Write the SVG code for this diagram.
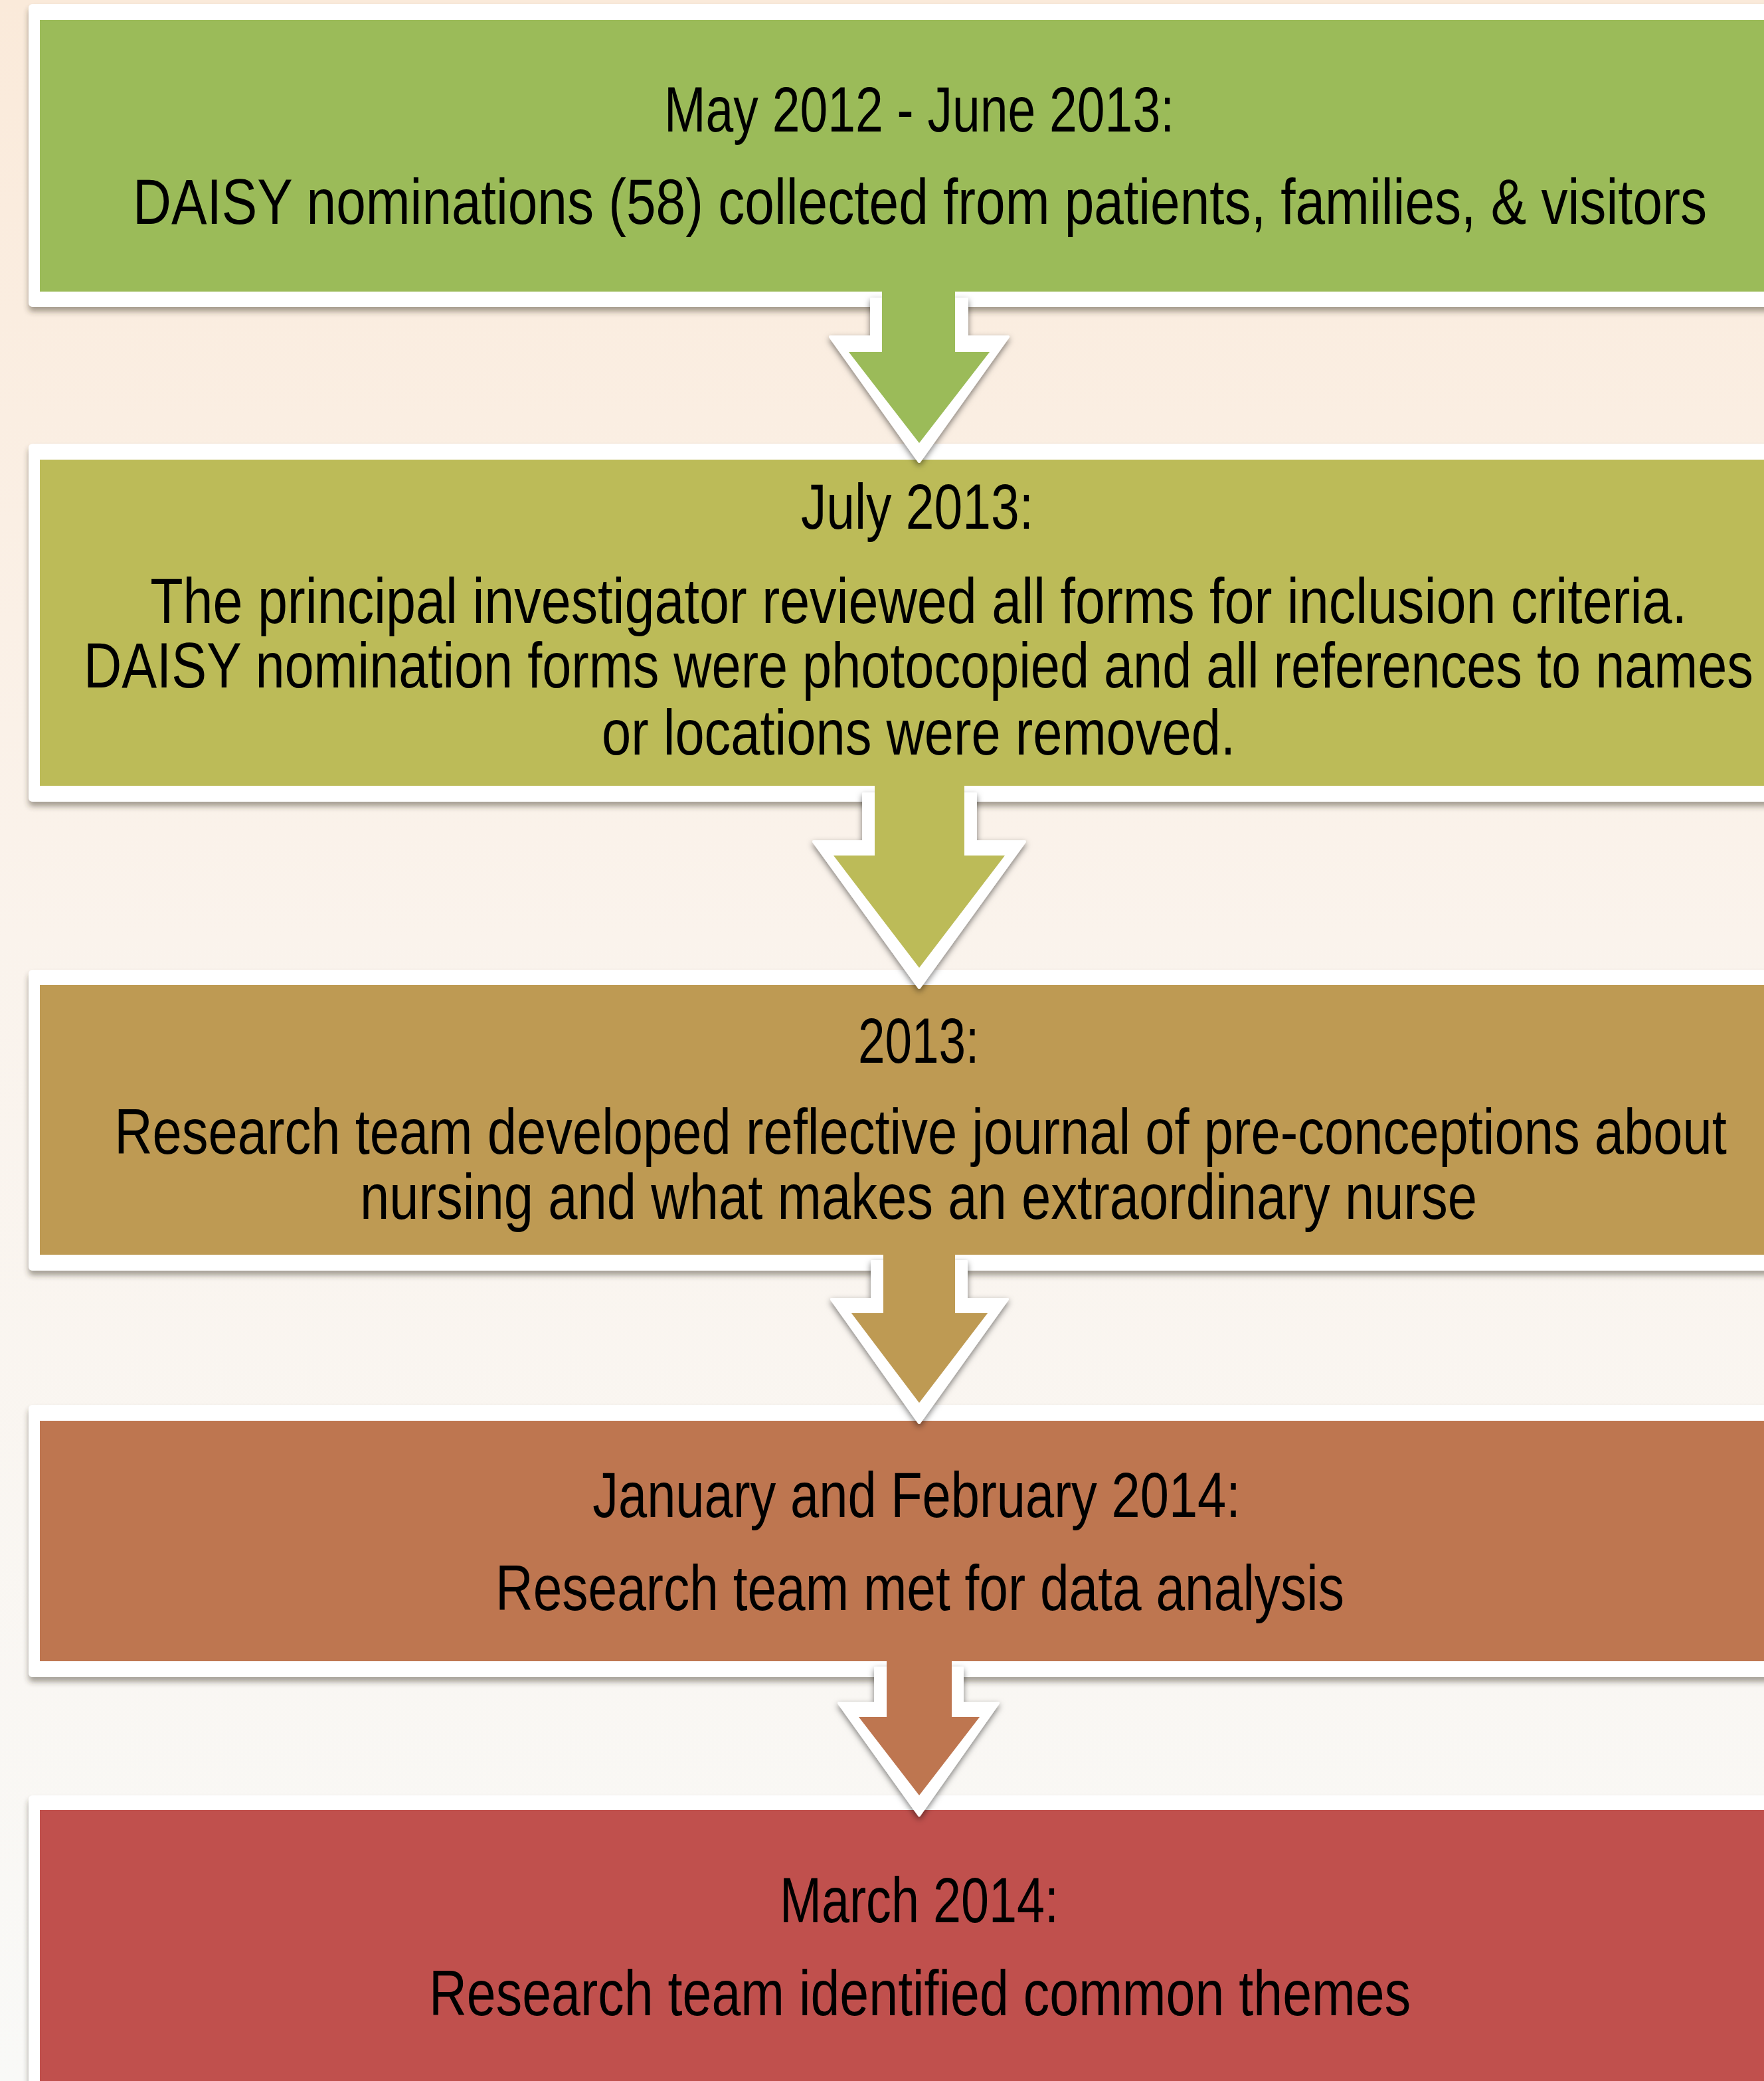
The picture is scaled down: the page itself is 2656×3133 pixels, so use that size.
<svg xmlns="http://www.w3.org/2000/svg" width="2656" height="3133" viewBox="0 0 2656 3133">
<defs>
<linearGradient id="bg" x1="0" y1="0" x2="0" y2="1">
<stop offset="0" stop-color="#FAEADA"/>
<stop offset="0.45" stop-color="#FAF3EC"/>
<stop offset="1" stop-color="#F9F9F7"/>
</linearGradient>
<filter id="boxShadow" x="-3%" y="-10%" width="110%" height="125%">
<feDropShadow dx="0" dy="7" stdDeviation="4" flood-color="#3a3026" flood-opacity="0.45"/>
</filter>
<filter id="arrowShadow" x="-30%" y="-20%" width="160%" height="150%">
<feDropShadow dx="0" dy="4" stdDeviation="5" flood-color="#000" flood-opacity="0.5"/>
</filter>
<style>
.frame{fill:#FFFFFF;filter:url(#boxShadow)}
.t{font-family:"Liberation Sans",Arial,sans-serif;font-size:96px;fill:#000;text-anchor:middle}
.aout{fill:#FFFFFF;stroke:#FFFFFF;stroke-width:4;stroke-linejoin:round;filter:url(#arrowShadow)}
</style>
</defs>
<rect x="0" y="0" width="2656" height="3133" fill="url(#bg)"/>

<g id="node1">
<rect class="frame" x="43" y="6" width="2700" height="456" rx="6"/>
<rect x="60" y="30" width="2700" height="409" fill="#9BBB59"/>
<text class="t" transform="translate(1384 198) scale(0.75 1)" x="0" y="0" textLength="1024" lengthAdjust="spacingAndGlyphs">May 2012 - June 2013:</text>
<text class="t" transform="translate(1385 337) scale(0.75 1)" x="0" y="0" textLength="3160" lengthAdjust="spacingAndGlyphs">DAISY nominations (58) collected from  patients, families,  &amp; visitors</text>
</g>

<g id="node2">
<rect class="frame" x="43" y="668" width="2700" height="539" rx="6"/>
<rect x="60" y="692" width="2700" height="491" fill="#BCBB58"/>
<text class="t" transform="translate(1381 796) scale(0.75 1)" x="0" y="0" textLength="467" lengthAdjust="spacingAndGlyphs">July 2013:</text>
<text class="t" transform="translate(1383 938) scale(0.75 1)" x="0" y="0" textLength="3085" lengthAdjust="spacingAndGlyphs">The principal  investigator reviewed all forms for inclusion criteria.</text>
<text class="t" transform="translate(1383 1035) scale(0.75 1)" x="0" y="0" textLength="3352" lengthAdjust="spacingAndGlyphs">DAISY nomination  forms were photocopied  and all references to names</text>
<text class="t" transform="translate(1383 1136) scale(0.75 1)" x="0" y="0" textLength="1272" lengthAdjust="spacingAndGlyphs">or locations were removed.</text>
</g>

<g id="node3">
<rect class="frame" x="43" y="1460" width="2700" height="453" rx="6"/>
<rect x="60" y="1483" width="2700" height="406" fill="#BE9A53"/>
<text class="t" transform="translate(1383 1600) scale(0.75 1)" x="0" y="0" textLength="243" lengthAdjust="spacingAndGlyphs">2013:</text>
<text class="t" transform="translate(1386 1737) scale(0.75 1)" x="0" y="0" textLength="3237" lengthAdjust="spacingAndGlyphs">Research team developed reflective journal of pre-conceptions about</text>
<text class="t" transform="translate(1383 1835) scale(0.75 1)" x="0" y="0" textLength="2243" lengthAdjust="spacingAndGlyphs">nursing and what makes an extraordinary nurse</text>
</g>

<g id="node4">
<rect class="frame" x="43" y="2115" width="2700" height="410" rx="6"/>
<rect x="60" y="2139" width="2700" height="362" fill="#BE7650"/>
<text class="t" transform="translate(1380 2284) scale(0.75 1)" x="0" y="0" textLength="1301" lengthAdjust="spacingAndGlyphs">January and February 2014:</text>
<text class="t" transform="translate(1385 2424) scale(0.75 1)" x="0" y="0" textLength="1704" lengthAdjust="spacingAndGlyphs">Research team met for data analysis</text>
</g>

<g id="node5">
<rect class="frame" x="43" y="2703" width="2700" height="500" rx="6"/>
<rect x="60" y="2725" width="2700" height="480" fill="#C0504D"/>
<text class="t" transform="translate(1384 2894) scale(0.75 1)" x="0" y="0" textLength="560" lengthAdjust="spacingAndGlyphs">March 2014:</text>
<text class="t" transform="translate(1385 3034) scale(0.75 1)" x="0" y="0" textLength="1971" lengthAdjust="spacingAndGlyphs">Research team identified common themes</text>
</g>

<g id="connectors">
<g id="arrow1">
<polygon class="aout" points="1312,450 1312,507 1250,507 1384,695 1518,507 1456,507 1456,450"/>
<polygon fill="#9BBB59" points="1328,430 1328,530 1278,530 1384,667 1490,530 1438,530 1438,430"/>
</g>
<g id="arrow2">
<polygon class="aout" points="1300,1195 1300,1267 1225,1267 1384,1487 1543,1267 1469,1267 1469,1195"/>
<polygon fill="#BCBB58" points="1317,1175 1317,1288 1255,1288 1384,1457 1513,1288 1452,1288 1452,1175"/>
</g>
<g id="arrow3">
<polygon class="aout" points="1313,1899 1313,1956 1252,1956 1384,2142 1517,1956 1455,1956 1455,1899"/>
<polygon fill="#BE9A53" points="1330,1880 1330,1977 1282,1977 1384,2112 1487,1977 1438,1977 1438,1880"/>
</g>
<g id="arrow4">
<polygon class="aout" points="1318,2511 1318,2564 1263,2564 1384,2733 1503,2564 1449,2564 1449,2511"/>
<polygon fill="#BE7650" points="1335,2492 1335,2585 1293,2585 1384,2703 1475,2585 1433,2585 1433,2492"/>
</g>
</g>
</svg>
